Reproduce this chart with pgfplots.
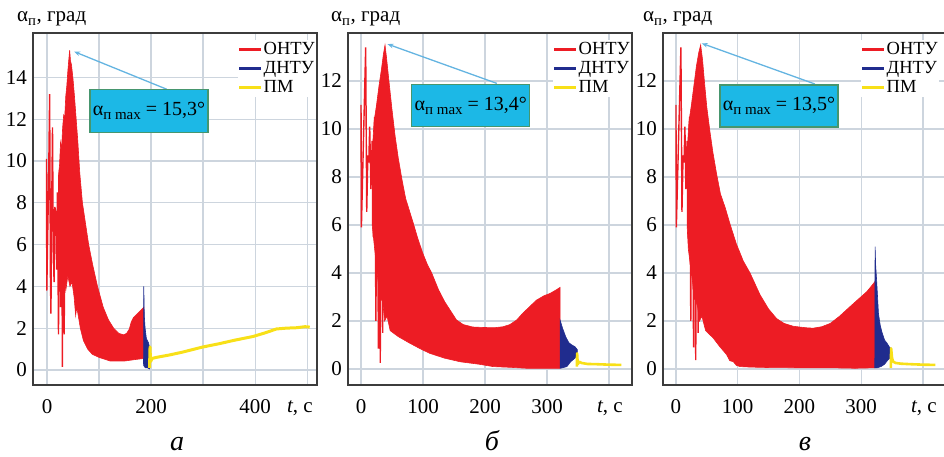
\documentclass[border=0pt]{standalone}
\usepackage{fontspec}
\setmainfont{Liberation Serif}
\usepackage{pgfplots}
\pgfplotsset{compat=1.18}
\usetikzlibrary{arrows.meta}
\definecolor{cRed}{RGB}{237,28,36}
\definecolor{cBlue}{RGB}{32,44,142}
\definecolor{cYel}{RGB}{248,224,24}
\definecolor{cBox}{RGB}{28,184,230}
\definecolor{cBoxB}{RGB}{70,150,110}
\definecolor{cArr}{RGB}{100,180,225}
\definecolor{cGrid}{RGB}{205,213,222}
\definecolor{cAxis}{RGB}{60,60,60}
\tikzset{
  boxnode/.style={fill=cBox, draw=cBoxB, line width=1.2bp, minimum width=118bp,
     minimum height=43bp, inner sep=0pt, font=\fontsize{20bp}{22bp}\selectfont},
  arr/.style={draw=cArr, line width=1.3bp, -{Stealth[length=6bp,width=4.5bp]}},
}
\pgfplotsset{
  myax/.style={
    scale only axis, width=284bp, height=352bp, anchor=south west,
    axis line style={draw=cAxis, line width=1.3bp},
    grid=both,
    major grid style={draw=cGrid, line width=1.2bp},
    minor grid style={draw=cGrid, line width=1.2bp},
    major tick length=0pt, minor tick length=0pt,
    /pgf/number format/assume math mode=true,
    tick label style={font=\fontsize{21bp}{23bp}\selectfont},
    xticklabel style={yshift=-7bp},
    yticklabel style={xshift=1bp},
    legend style={at={(1,1)}, anchor=north east, xshift=-1bp, yshift=-7bp,
      draw=none, fill=white, inner sep=0pt,
      font=\fontsize{18.5bp}{19bp}\selectfont,
      nodes={inner sep=1bp, text height=13bp, text depth=4bp},
      /tikz/every even column/.append style={column sep=0bp}},
    legend cell align=left,
    legend image code/.code={\draw[##1] (0bp,0bp) -- (22bp,0bp);},
  },
  redfill/.style={fill=cRed, draw=cRed, line width=0.6bp, forget plot},
  redline/.style={draw=cRed, line width=1.4bp, forget plot, line join=miter},
  bluefill/.style={fill=cBlue, draw=cBlue, line width=0.6bp, forget plot},
  yelline/.style={draw=cYel, line width=3bp, forget plot, line join=round},
}
\newcommand{\amax}[1]{α\raisebox{-4bp}{\fontsize{15bp}{16bp}\selectfont п max} = #1°}
\begin{document}
\fontsize{21bp}{24bp}\selectfont
\begin{tikzpicture}
\useasboundingbox (0,0) rectangle (944bp,457bp);
% ---------------- panel a ----------------
\begin{axis}[myax, at={(33bp,72bp)},
  xmin=-27, xmax=519, ymin=-0.72, ymax=16.12,
  xtick={0,200,400}, minor xtick={100,300,500}, ytick={0,2,...,14}]
\addlegendimage{cRed, line width=3bp}\addlegendentry{ОНТУ}
\addlegendimage{cBlue, line width=3bp}\addlegendentry{ДНТУ}
\addlegendimage{cYel, line width=3bp}\addlegendentry{ПМ}
\addplot[redfill] coordinates {
(22,9.3) (24,9.8) (26,10.9) (28,10.6) (30,11.6) (32,12.2) (34,12.1) (36,13.1)
(38,13.6) (40,14.3) (42,14.9) (43.5,15.3) (45,14.8) (47,14.6) (50,13.9) (53,13.0)
(56,12.0) (59,11.0) (63,9.4) (68,8.0) (74,7.0) (80,6.0) (88,5.0) (97,4.0)
(108,3.0) (118,2.4) (128,2.0) (138,1.75) (147,1.68) (153,1.75) (158,1.95)
(162,2.3) (166,2.5) (172,2.65) (178,2.8) (186,3.0)
(186,0.55) (170,0.5) (150,0.43) (121,0.43) (100,0.6) (87,0.75) (78,1.0)
(70,1.4) (64,2.0) (60,2.6) (57,3.0) (55,2.6) (52,3.5) (48,4.2) (44,4.0)
(40,4.5) (36,3.8) (33,4.5) (30,5.5) (26,6.0) (22,7.0)} -- cycle;
\addplot[redline] coordinates {
(-1,10.1) (-0.5,3.8) (3,9) (5,13.2) (6.5,4.5) (7.5,2.7) (9,8) (10.5,11.6)
(12,6) (13.5,4.2) (15,7.8) (17,7.5) (18.5,4.8) (20,8.5) (22,1.7) (24,9.6)
(26,3.0) (28,10.3) (29.5,0.15) (31,11) (33,1.7) (35,12)};
\addplot[bluefill] coordinates {
(185.5,0.3) (186,4.0) (187,2.6) (188.5,2.0) (191,1.5) (195,1.3) (198,1.0)
(199,0.4) (197,0.05) (193,0.1) (189,0.1) (186,0.2)} -- cycle;
\addplot[yelline] coordinates {
(197,0.1) (198,1.1) (199,0.4) (202,0.55) (210,0.6) (236,0.72) (260,0.85)
(298,1.09) (330,1.25) (360,1.42) (396,1.6) (420,1.78) (441,1.96) (460,2.0)
(480,2.02) (496,2.07) (505,2.05)};
\draw[arr] (axis cs:230,13.43) -- (axis cs:52,15.23);
\node[boxnode] at (axis cs:196,12.37) {\amax{15,3}};
\end{axis}
% ---------------- panel b ----------------
\begin{axis}[myax, at={(348bp,72bp)},
  xmin=-21, xmax=437, ymin=-0.667, ymax=14.0,
  xtick={0,100,200,300}, minor xtick={400}, ytick={0,2,...,12}]
\addlegendimage{cRed, line width=3bp}\addlegendentry{ОНТУ}
\addlegendimage{cBlue, line width=3bp}\addlegendentry{ДНТУ}
\addlegendimage{cYel, line width=3bp}\addlegendentry{ПМ}
\addplot[redfill] coordinates {
(18,9.0) (21,10.3) (25,11.0) (29,11.8) (33,12.5) (36,13.1) (38.7,13.5) (41,13.0)
(45,12.0) (50,10.8) (55,9.7) (60,8.8) (66,7.9) (72,7.1) (78,6.6) (84,6.1)
(92,5.4) (100,4.8) (107,4.35) (114,4.0) (125,3.3) (135,2.8) (145,2.4) (154,2.04)
(165,1.85) (180,1.75) (197,1.73) (215,1.72) (229,1.76) (240,1.85) (251,2.04)
(260,2.3) (270,2.55) (283,2.87) (295,3.05) (305,3.15) (315,3.3) (321,3.4)
(321,0.03) (300,0.03) (267,0.03) (240,0.07) (213,0.1) (190,0.2) (160,0.3)
(135,0.45) (111,0.65) (95,0.85) (79,1.07) (60,1.35) (47,1.6) (42,2.2) (38,2.0)
(35,2.8) (30,3.0) (26,4.0) (22,5.0) (18,6.0)} -- cycle;
\addplot[redline] coordinates {
(0,11.0) (0.6,5.9) (7.5,13.4) (9.2,6.55) (11,8.9) (12.5,8.6) (14,10.1) (16,7.5)
(18,9.5) (20,5.5) (22,10.5) (24,2.0) (26,11) (28,0.85) (29.5,11.5) (31,0.25)
(33,12) (35,1.5)};
\addplot[bluefill] coordinates {
(321,2.04) (325,1.7) (330,1.35) (335,1.1) (340,1.0) (345,0.93) (349,0.8)
(349,0.6) (345,0.45) (338,0.3) (332,0.1) (325,0.05) (321,0.03)} -- cycle;
\addplot[yelline, line width=2.6bp] coordinates {
(348,0.1) (348.5,0.65) (349.5,0.2) (352,0.3) (356,0.25) (365,0.21) (380,0.2)
(400,0.18) (420,0.17)};
\draw[arr] (axis cs:219,11.9) -- (axis cs:42.5,13.54);
\node[boxnode, minimum height=42bp] at (axis cs:177,10.97) {\amax{13,4}};
\end{axis}
% ---------------- panel c ----------------
\begin{axis}[myax, at={(663bp,72bp)},
  xmin=-21, xmax=439, ymin=-0.667, ymax=14.0,
  xtick={0,100,200,300}, minor xtick={400}, ytick={0,2,...,12},
  legend style={xshift=-7bp}]
\addlegendimage{cRed, line width=3bp}\addlegendentry{ОНТУ}
\addlegendimage{cBlue, line width=3bp}\addlegendentry{ДНТУ}
\addlegendimage{cYel, line width=3bp}\addlegendentry{ПМ}
\addplot[redfill] coordinates {
(18,9.0) (21,10.3) (25,11.0) (29,11.8) (33,12.6) (37,13.2) (40,13.5) (43,12.9)
(46,12.0) (50,10.9) (55,9.9) (60,9.0) (66,8.1) (72,7.3) (80,6.7) (88,6.0)
(98,5.2) (109,4.5) (120,4.0) (136,3.1) (150,2.5) (163,2.1) (175,1.9) (190,1.78)
(210,1.72) (222,1.7) (236,1.76) (250,1.9) (265,2.2) (282,2.6) (295,2.9)
(309,3.22) (318,3.5) (322.5,3.65)
(322.5,0.05) (290,0.03) (250,0.05) (200,0.05) (150,0.06) (120,0.08) (104,0.1)
(98,0.15) (93,0.3) (87,0.35) (82,0.6) (71,0.93) (60,1.3) (48,1.6) (42,2.2)
(38,2.0) (35,2.6) (30,3.0) (25,4.0) (20,5.0) (18,6.0)} -- cycle;
\addplot[redline] coordinates {
(0,11.0) (0.6,5.9) (8,13.4) (9.7,6.55) (11.5,8.9) (13,8.6) (14.5,10.1) (16,7.5)
(18,9.5) (20,5.5) (22,10.5) (24,2.0) (26,11) (28.5,0.9) (30,11.5) (32,0.37)
(34,12) (36,1.5)};
\addplot[bluefill] coordinates {
(322,0.05) (322.5,5.1) (323.5,4.3) (325,3.7) (328,2.3) (331,1.8) (334,1.5)
(338,1.2) (342,1.07) (346,0.9) (348,0.86) (348,0.5) (343,0.37) (338,0.2)
(332,0.1) (326,0.05)} -- cycle;
\addplot[yelline, line width=2.6bp] coordinates {
(348,0.05) (348.5,0.86) (350,0.45) (352,0.3) (356,0.25) (365,0.22) (380,0.2)
(400,0.18) (420,0.17)};
\draw[arr] (axis cs:225,11.875) -- (axis cs:41.6,13.57);
\node[boxnode, minimum height=42bp] at (axis cs:167,10.96) {\amax{13,5}};
\end{axis}
% ---------------- labels ----------------
\node[anchor=base west, inner sep=0pt] at (17bp,435bp) {α\textsubscript{п}, град};
\node[anchor=base west, inner sep=0pt] at (331bp,435bp) {α\textsubscript{п}, град};
\node[anchor=base west, inner sep=0pt] at (643bp,435bp) {α\textsubscript{п}, град};
\node[anchor=base east, inner sep=0pt] at (313bp,44bp) {\textit{t}, с};
\node[anchor=base east, inner sep=0pt] at (623bp,44bp) {\textit{t}, с};
\node[anchor=base east, inner sep=0pt] at (937bp,44bp) {\textit{t}, с};
\node[anchor=base, inner sep=0pt, font=\fontsize{28bp}{30bp}\selectfont\itshape] at (177bp,7bp) {а};
\node[anchor=base, inner sep=0pt, font=\fontsize{28bp}{30bp}\selectfont\itshape] at (492bp,7bp) {б};
\node[anchor=base, inner sep=0pt, font=\fontsize{28bp}{30bp}\selectfont\itshape] at (805bp,7bp) {в};
\end{tikzpicture}
\end{document}
